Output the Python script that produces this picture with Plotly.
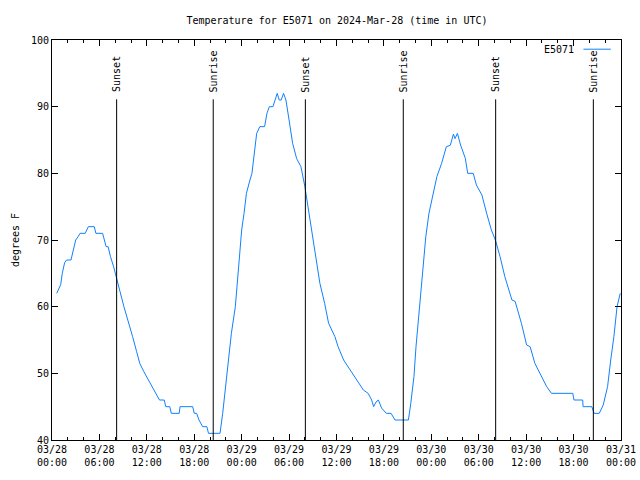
import pandas as pd
import plotly.graph_objects as go

# ---- data (hours after 2024-03-28 00:00 UTC, temperature in °F) ----
base_time = "2024-03-28 00:00"
hours = [0.6, 0.9, 1.1, 1.3, 1.45, 1.6, 1.85, 2.4, 2.7, 3.0, 3.3, 3.55, 4.2, 4.6, 5.35, 5.55,
         6.4, 6.6, 6.85, 7.1, 7.4, 7.8, 8.2, 8.6, 9.1, 9.66, 10.2, 10.7, 11.1, 11.6, 12.2, 12.8,
         13.3, 13.6, 14.2, 14.4, 14.9, 15.1, 16.1, 16.2, 17.8, 18.0, 18.3, 18.6, 19.06, 19.6,
         19.8, 21.26, 21.6, 21.9, 22.3, 22.7, 23.2, 23.6, 24.0, 24.3, 24.6, 25.05, 25.3, 25.5,
         25.9, 26.3, 26.9, 27.2, 27.5, 27.96, 28.2, 28.5, 28.75, 29.0, 29.3, 29.6, 30.0, 30.45,
         30.96, 31.5, 32.0, 32.6, 33.3, 33.9, 34.5, 35.0, 35.8, 36.2, 36.9, 37.7, 38.55, 39.4,
         40.0, 40.45, 40.7, 41.0, 41.3, 41.7, 42.3, 42.9, 43.4, 45.1, 45.4, 45.8, 46.06, 46.35,
         46.8, 47.0, 47.3, 47.7, 48.2, 48.7, 49.3, 49.9, 50.4, 50.8, 51.0, 51.3, 51.7, 52.3,
         52.6, 53.3, 53.7, 54.4, 55.0, 55.6, 56.1, 56.7, 57.3, 58.2, 58.6, 59.4, 60.06, 60.5,
         61.1, 61.75, 62.6, 63.2, 65.9, 66.05, 67.15, 67.2, 68.3, 68.6, 69.25, 69.75, 70.3,
         70.7, 71.1, 71.5, 71.9]
temps = [62, 62.8, 63.3, 65, 66, 66.6, 67, 67, 68.5, 70, 70.5, 71, 71, 72, 72, 71,
         71, 70, 69, 69, 67.5, 66, 64.3, 62.3, 60, 57.5, 55.5, 53.3, 51.5, 50.3, 49, 47.5,
         46.5, 46, 46, 45, 45, 44, 44, 45, 45, 44, 44, 43, 42, 42,
         41, 41, 44, 47.5, 52, 56, 60, 65.5, 71.5, 74, 77, 79, 80, 82,
         86, 87, 87, 89, 90, 90, 91, 92, 91, 91, 92, 91, 88, 84.5,
         82.2, 81, 78, 73.5, 68.5, 63.5, 60.5, 57.5, 55.5, 54, 52, 50.5, 49, 47.5,
         47, 46, 45, 45.7, 46, 44.8, 44, 44, 43, 43, 45.5, 49.5, 54, 58,
         63, 67, 70.5, 74, 77, 79.5, 81.5, 84, 84.2, 85.9, 85.2, 86, 84.25, 82.25,
         80, 80, 78.25, 76.75, 74, 71.5, 70, 67.5, 64.5, 61, 60.8, 57.5, 54.25, 54,
         51.5, 50, 48, 47, 47, 46, 46, 45, 45, 44, 44, 45.25, 48,
         52, 55.5, 60, 62]

event_hours = [8.18, 20.4, 32.06, 44.45, 56.14, 68.5]
event_labels = ["Sunset", "Sunrise", "Sunset", "Sunrise", "Sunset", "Sunrise"]
event_top = 91.1

series_name = "E5071"
title_text = "Temperature for E5071 on 2024-Mar-28 (time in UTC)"
y_title = "degrees F"
x_range_hours = [0, 72]
y_range = [40, 100]

# ---- build ----
t0 = pd.Timestamp(base_time)
times = [t0 + pd.Timedelta(hours=h) for h in hours]
event_times = [t0 + pd.Timedelta(hours=h) for h in event_hours]

FONT = "DejaVu Sans Mono"
BLUE = "#1080ff"

fig = go.Figure()
fig.add_trace(go.Scatter(x=times, y=temps, mode="lines", name=series_name,
                         line=dict(color=BLUE, width=1), showlegend=False))

for t, lab in zip(event_times, event_labels):
    fig.add_shape(type="line", x0=t, x1=t, y0=y_range[0], y1=event_top,
                  xref="x", yref="y", line=dict(color="black", width=1))
    fig.add_annotation(x=t, y=event_top, xref="x", yref="y", text=lab, textangle=-90,
                       showarrow=False, yanchor="bottom", xanchor="center", yshift=5,
                       font=dict(family=FONT, size=10, color="black"))

# legend (gnuplot style: text left of sample line)
fig.add_annotation(x=0.921, y=0.977, xref="paper", yref="paper", text=series_name,
                   showarrow=False, xanchor="right", yanchor="middle",
                   font=dict(family=FONT, size=10, color="black"))
fig.add_shape(type="line", x0=0.934, x1=0.982, y0=0.977, y1=0.977, xref="paper", yref="paper",
              line=dict(color=BLUE, width=1))

fig.update_layout(
    width=640, height=480,
    margin=dict(l=52, r=19, t=40, b=40),
    paper_bgcolor="white", plot_bgcolor="white",
    font=dict(family=FONT, size=10, color="black"),
    title=dict(text=title_text, x=0.5265, xanchor="center", y=0.958, yanchor="middle",
               font=dict(family=FONT, size=10, color="black")),
    showlegend=False,
)
fig.update_xaxes(
    type="date", automargin=False,
    range=[t0 + pd.Timedelta(hours=x_range_hours[0]), t0 + pd.Timedelta(hours=x_range_hours[1])],
    tickformat="%m/%d<br>%H:%M", dtick=6 * 3600 * 1000, tick0=t0,
    ticks="inside", ticklen=6, tickcolor="black", tickwidth=1,
    minor=dict(dtick=2 * 3600 * 1000, ticks="inside", ticklen=3, tickcolor="black", tickwidth=1),
    showline=True, linecolor="black", linewidth=1, mirror="ticks",
    showgrid=False, zeroline=False,
    tickfont=dict(family=FONT, size=10, color="black"),
)
fig.update_yaxes(
    automargin=False,
    range=y_range, dtick=10, tick0=40,
    ticks="inside", ticklen=6, tickcolor="black", tickwidth=1,
    showline=True, linecolor="black", linewidth=1, mirror="ticks",
    showgrid=False, zeroline=False,
    tickfont=dict(family=FONT, size=10, color="black"),
    title=dict(text=y_title, standoff=9, font=dict(family=FONT, size=10, color="black")),
)

fig.write_html("out.html", config={"displayModeBar": False},
               post_script="document.body.style.margin='0';")
